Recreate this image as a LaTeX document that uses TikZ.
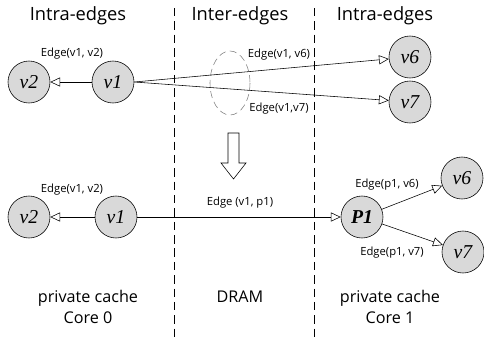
\documentclass[tikz,border=0pt]{standalone}
\usepackage{fontspec}
\setmainfont{Liberation Serif}
\setsansfont{Open Sans}
\usetikzlibrary{arrows.meta}

\begin{document}
\begin{tikzpicture}[x=0.025cm, y=-0.025cm,
    vertex/.style={circle, draw, fill=gray!30, minimum size=1.05cm, inner sep=0pt,
      font=\fontsize{14}{14}\selectfont\itshape},
    lbl/.style={font=\sffamily\fontsize{8}{9}\selectfont, inner sep=1pt},
    title/.style={font=\sffamily\fontsize{13}{15}\selectfont, align=center},
    bottom/.style={font=\sffamily\fontsize{11.5}{15}\selectfont, align=center},
    edge/.style={-{Triangle[open, length=7pt, width=6.5pt]}},
    sep/.style={dash pattern=on 6pt off 3.5pt}]
    \useasboundingbox (0,0) rectangle (484,337);

    % column borders
    \draw[sep] (174,8) -- (174,337);
    \draw[sep] (314,8) -- (314,337);

    \node[title] (t0) at (78,16) {Intra-edges};
    \node[title] (t1) at (240,16) {Inter-edges};
    \node[title] (t2) at (385,16) {Intra-edges};

    % before
    \node[vertex] (a2) at (29,82) {v2};
    \node[vertex] (a1) at (113,82) {v1};
    \node[vertex] (a6) at (410,57) {v6};
    \node[vertex] (a7) at (410,102) {v7};

    \draw[gray, dash pattern=on 5pt off 3pt] (230,83) ellipse (20 and 32);

    \draw[edge] (a1) -- (a2);
    \draw[edge] (a1.east) -- (a6);
    \draw[edge] (a1.east) -- (a7);

    \node[lbl] (e12) at (72,54) {Edge(v1, v2)};
    \node[lbl] (e16) at (279,55) {Edge(v1, v6)};
    \node[lbl] (e17) at (279,109) {Edge(v1,v7)};

    % big arrow
    \draw[fill=white] (228,133) -- (239,133) -- (239,163) -- (246,163) -- (233.5,179)
      -- (221,163) -- (228,163) -- cycle;

    % after
    \node[vertex] (b2) at (29,217) {v2};
    \node[vertex] (b1) at (116,217) {v1};
    \node[vertex, font=\fontsize{14}{14}\selectfont\bfseries\itshape] (p1) at (362,217) {P1};
    \node[vertex] (b6) at (462,178) {v6};
    \node[vertex] (b7) at (463,252) {v7};

    \draw[edge] (b1) -- (b2);
    \draw[edge] (b1) -- (p1);
    \draw[edge] (p1) -- (b6);
    \draw[edge] (p1) -- (b7);

    \node[lbl] (f12) at (72,190) {Edge(v1, v2)};
    \node[lbl] (f1p) at (240,203) {Edge (v1, p1)};
    \node[lbl] (fp6) at (387,185) {Edge(p1, v6)};
    \node[lbl] (fp7) at (392,253) {Edge(p1, v7)};

    \node[bottom] (c0) at (88,307) {private cache\\Core 0};
    \node[bottom] (cd) at (240,297) {DRAM};
    \node[bottom] (c1) at (390,307) {private cache\\Core 1};
\end{tikzpicture}
\end{document}
